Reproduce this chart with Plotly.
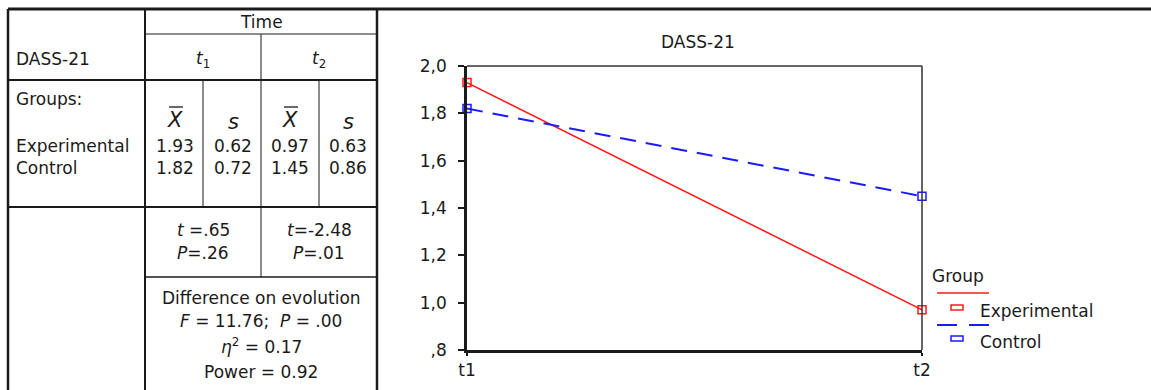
import plotly.graph_objects as go

W, H = 1151, 390

# ---- data ----
times = ["t1", "t2"]
groups = ["Experimental", "Control"]
exp_means = [1.93, 0.97]
ctrl_means = [1.82, 1.45]
exp_sd = [0.62, 0.63]
ctrl_sd = [0.72, 0.86]
t_vals = [".65", "-2.48"]
p_vals = [".26", ".01"]
F_val = "11.76"
F_p = ".00"
eta2 = "0.17"
power = "0.92"
ytick_vals = [0.8, 1.0, 1.2, 1.4, 1.6, 1.8, 2.0]
ytick_text = [",8", "1,0", "1,2", "1,4", "1,6", "1,8", "2,0"]

FONT = "DejaVu Sans"
FS = 17
INK = "#1a1a1a"
RED = "#ff1a1a"
BLUE = "#1a1aff"


def px(x):
    return x / W


def py(y):
    return 1 - y / H


fig = go.Figure()
fig.add_trace(go.Scatter(
    x=times, y=exp_means, mode="lines+markers", cliponaxis=False, showlegend=False,
    line=dict(color=RED, width=1.5),
    marker=dict(symbol="square-open", size=8, color=RED, line=dict(width=1.5, color=RED)),
))
fig.add_trace(go.Scatter(
    x=times, y=ctrl_means, mode="lines+markers", cliponaxis=False, showlegend=False,
    line=dict(color=BLUE, width=2, dash="16px,10px"),
    marker=dict(symbol="square-open", size=8, color=BLUE, line=dict(width=1.5, color=BLUE)),
))

shapes = []


def L(x0, y0, x1, y1, w=1, color=INK):
    shapes.append(dict(type="line", xref="paper", yref="paper", x0=px(x0), y0=py(y0), x1=px(x1), y1=py(y1),
                       line=dict(color=color, width=w)))


# table / frame lines
L(8, 9, 1151, 9, 3)
L(8, 9, 8, 390, 2.5)
L(145, 9, 145, 390, 2)
L(377, 9, 377, 390, 2.5)
L(145, 34, 377, 34, 1)
L(261, 34, 261, 207, 1)
L(8, 80, 377, 80, 2)
L(203, 80, 203, 207, 1)
L(319, 80, 319, 207, 1)
L(8, 207, 377, 207, 2)
L(261, 207, 261, 277, 1)
L(145, 277, 377, 277, 1.5)
# overlines on X
L(169, 107, 183, 107, 1.3)
L(284, 107, 298, 107, 1.3)

# plot frame top/right
shapes.append(dict(type="line", xref="x domain", yref="y domain", x0=0, y0=1, x1=1, y1=1,
                   line=dict(color="#333", width=1.5)))
shapes.append(dict(type="line", xref="x domain", yref="y domain", x0=1, y0=0, x1=1, y1=1,
                   line=dict(color="#333", width=1.5)))

# legend keys
L(937, 293, 989, 293, 1.5, RED)
shapes.append(dict(type="rect", xref="paper", yref="paper", x0=px(951), x1=px(963), y0=py(310), y1=py(305),
                   line=dict(color=RED, width=1.5)))
L(937, 325, 957, 325, 2, BLUE)
L(969, 325, 989, 325, 2, BLUE)
shapes.append(dict(type="rect", xref="paper", yref="paper", x0=px(951), x1=px(963), y0=py(341), y1=py(336),
                   line=dict(color=BLUE, width=1.5)))

annotations = []


def A(text, x, y, xanchor="center", size=FS):
    annotations.append(dict(text=text, x=px(x), y=py(y), xref="paper", yref="paper", showarrow=False,
                            xanchor=xanchor, yanchor="middle", borderpad=0,
                            font=dict(family=FONT, size=size, color=INK)))


A("Time", 261, 22)
A("DASS-21", 15, 59, "left")
A("<i>t</i><sub>1</sub>", 203, 59)
A("<i>t</i><sub>2</sub>", 319, 59)
A("Groups:", 15, 99, "left")
A("<i>X</i>", 175, 120, size=21)
A("<i>s</i>", 233, 122, size=21)
A("<i>X</i>", 290, 120, size=21)
A("<i>s</i>", 348, 122, size=21)
A(groups[0], 15, 146, "left")
A(groups[1], 15, 168, "left")
colx = [175, 233, 290, 348]
row_exp = [exp_means[0], exp_sd[0], exp_means[1], exp_sd[1]]
row_ctrl = [ctrl_means[0], ctrl_sd[0], ctrl_means[1], ctrl_sd[1]]
for cx, v in zip(colx, row_exp):
    A(f"{v:.2f}", cx, 146)
for cx, v in zip(colx, row_ctrl):
    A(f"{v:.2f}", cx, 168)
A(f"<i>t</i> ={t_vals[0]}", 203, 230)
A(f"<i>P</i>={p_vals[0]}", 203, 253)
A(f"<i>t</i>={t_vals[1]}", 319, 230)
A(f"<i>P</i>={p_vals[1]}", 319, 253)
A("Difference on evolution", 261, 298)
A(f"<i>F</i> = {F_val};  <i>P</i> = {F_p}", 261, 321)
A(f"<i>η</i><sup>2</sup> = {eta2}", 261, 346)
A(f"Power = {power}", 261, 372)

# chart title and legend texts
A("DASS-21", 698, 42)
A("Group", 931, 276, "left")
A(groups[0], 979, 311, "left")
A(groups[1], 979, 342, "left")

fig.update_layout(
    width=W, height=H, margin=dict(l=0, r=0, t=0, b=0, pad=0, autoexpand=False),
    paper_bgcolor="white", plot_bgcolor="white",
    font=dict(family=FONT, size=FS, color=INK),
    shapes=shapes, annotations=annotations,
    xaxis=dict(domain=[px(467), px(922)], type="category", range=[0, 1], showgrid=False, zeroline=False,
               automargin=False,
               showline=True, linecolor=INK, linewidth=2.5, ticks="outside", ticklen=3, tickwidth=2,
               tickcolor=INK, tickfont=dict(family=FONT, size=FS, color=INK)),
    yaxis=dict(domain=[py(350), py(66)], range=[0.8, 2.0], tickvals=ytick_vals, ticktext=ytick_text,
               automargin=False, ticklabelstandoff=8,
               showgrid=False, zeroline=False, showline=True, linecolor=INK, linewidth=2.5,
               ticks="outside", ticklen=6, tickwidth=2, tickcolor=INK,
               tickfont=dict(family=FONT, size=FS, color=INK)),
)

fig.write_html(
    "out.html",
    config={"displayModeBar": False},
    post_script="document.documentElement.style.margin='0';document.body.style.margin='0';",
)
